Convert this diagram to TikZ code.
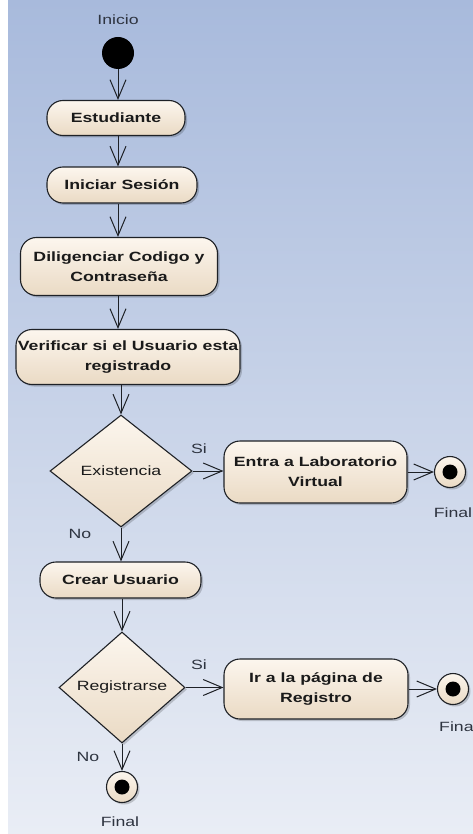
\documentclass[tikz,border=0pt]{standalone}
\usepackage{fontspec}
\setmainfont{Liberation Sans}[FakeStretch=1.32]
\usetikzlibrary{arrows.meta,shapes.geometric,shadows}
\definecolor{bgtop}{HTML}{A8BADC}
\definecolor{bgbot}{HTML}{E9EDF5}
\definecolor{boxtop}{HTML}{FCF6EE}
\definecolor{boxbot}{HTML}{EADAC4}
\definecolor{linec}{HTML}{1E2126}
\definecolor{txt}{HTML}{1A1A1A}
\definecolor{lblc}{HTML}{2E3440}
\begin{document}
\begin{tikzpicture}[x=1pt,y=-1pt,
  shad/.style={drop shadow={shadow xshift=2pt,shadow yshift=-2pt,opacity=0.18,fill=black}},
  act/.style={rectangle, draw=linec, line width=1.1pt, rounded corners=16pt,
    top color=boxtop, bottom color=boxbot, shad, text=txt, align=center, inner sep=0pt,
    font=\bfseries\fontsize{13.4}{20}\selectfont},
  dec/.style={diamond, draw=linec, line width=1.1pt, top color=boxtop, bottom color=boxbot,
    shad, text=txt, inner sep=0pt, font=\fontsize{13.4}{20}\selectfont},
  fin/.style={circle, draw=linec, line width=1.1pt, top color=boxtop, bottom color=boxbot,
    shad, minimum size=31pt, inner sep=0pt},
  lbl/.style={text=lblc, inner sep=0pt, font=\fontsize{13.4}{15}\selectfont},
  flow/.style={draw=linec, line width=1pt, -{Straight Barb[length=19pt,width=16pt]}}]
\useasboundingbox (0,0) rectangle (473,834);
\clip (0,0) rectangle (473,834);
\shade[top color=bgtop, bottom color=bgbot] (8,0) rectangle (473,834);
\fill[white] (0,0) rectangle (8,834);

% nodes
\node[lbl] (tInicio) at (118,20) {Inicio};
\node[circle, fill=black, minimum size=32pt, inner sep=0pt] (start) at (118,53) {};
\node[act, minimum width=138pt, minimum height=35pt] (est) at (116,118) {Estudiante};
\node[act, minimum width=150pt, minimum height=36pt] (ini) at (122,185) {Iniciar Sesión};
\node[act, minimum width=197pt, minimum height=58pt] (dil) at (119,266.5) {Diligenciar Codigo y\\Contraseña};
\node[act, minimum width=224pt, minimum height=55pt] (ver) at (128,357) {Verificar si el Usuario esta\\registrado};
\node[dec, minimum width=142pt, minimum height=112pt, aspect=1.27] (exist) at (121,471) {Existencia};
\node[act, minimum width=183pt, minimum height=62pt] (entra) at (315.5,472) {Entra a Laboratorio\\Virtual};
\node[fin] (f1) at (450,472) {};
\fill[black] (f1) circle (7.5pt);
\node[lbl] (tF1) at (453,513) {Final};
\node[act, minimum width=161pt, minimum height=36pt] (crear) at (120.5,580) {Crear Usuario};
\node[dec, minimum width=126pt, minimum height=111pt, aspect=1.14] (reg) at (122,687.5) {Registrarse};
\node[act, minimum width=184pt, minimum height=60pt] (ir) at (316,689) {Ir a la página de\\Registro};
\node[fin] (f2) at (453,689) {};
\fill[black] (f2) circle (7.5pt);
\node[lbl, anchor=west] (tF2) at (439,727) {Final};
\node[fin] (f3) at (122,787) {};
\fill[black] (f3) circle (7.5pt);
\node[lbl] (tF3) at (120,822) {Final};
\node[lbl] (si1) at (199,449) {Si};
\node[lbl] (no1) at (80,534) {No};
\node[lbl] (si2) at (199,665) {Si};
\node[lbl] (no2) at (88,757) {No};

% connectors
\draw[flow] (start) -- (start |- est.north);
\draw[flow] (est.south -| start) -- (ini.north -| start);
\draw[flow] (ini.south -| start) -- (dil.north -| start);
\draw[flow] (dil.south -| start) -- (ver.north -| start);
\draw[flow] (ver.south -| exist.north) -- (exist.north);
\draw[flow] (exist.east) -- (exist.east -| entra.west);
\draw[flow] (entra.east) -- (entra.east -| f1.west);
\draw[flow] (exist.south) -- (exist.south |- crear.north);
\draw[flow] (crear.south -| reg.north) -- (reg.north);
\draw[flow] (reg.east) -- (reg.east -| ir.west);
\draw[flow] (ir.east) -- (ir.east -| f2.west);
\draw[flow] (reg.south) -- (reg.south |- f3.north);
\end{tikzpicture}
\end{document}
